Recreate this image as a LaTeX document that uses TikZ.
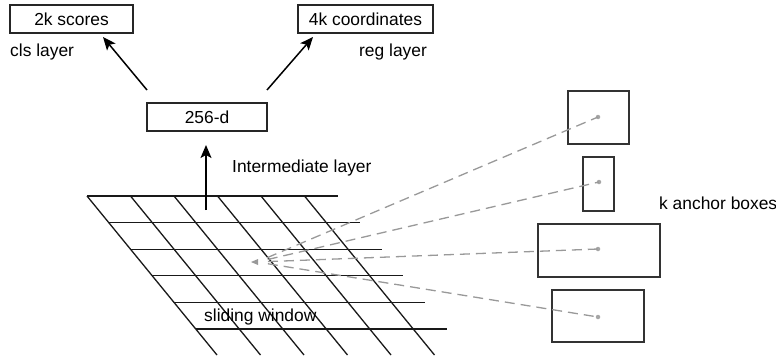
\documentclass[tikz,border=0pt]{standalone}
\usepackage{fontspec}
\setmainfont{Liberation Sans}
\usetikzlibrary{arrows.meta,calc}
\begin{document}
\begin{tikzpicture}[x=1pt,y=-1pt,
  lbl/.style={font=\fontsize{17.4}{20}\selectfont, inner sep=0pt},
  boxnode/.style={draw=black!85, line width=1.3pt, inner sep=0pt, font=\fontsize{17.4}{20}\selectfont},
  anchorbox/.style={draw=black!80, line width=1.3pt, inner sep=0pt},
  gridline/.style={draw=black!90, line width=1.3pt},
  bigarrow/.style={draw=black, line width=1.5pt, -{Stealth[length=13pt,width=11pt,inset=3pt]}},
  dashline/.style={draw=black!40, line width=1.3pt, dash pattern=on 10pt off 6pt},
  dotnode/.style={circle, fill=black!35, inner sep=0pt, minimum size=4.5pt}]
\useasboundingbox (0,0) rectangle (776,359);

% top boxes
\node[boxnode, minimum width=123pt, minimum height=28pt] (scores) at (71.5,19) {2k scores};
\node[boxnode, minimum width=135pt, minimum height=28pt] (coords) at (365.5,19) {4k coordinates};
\node[lbl, anchor=west] (cls) at (10,52) {cls layer};
\node[lbl, anchor=west] (reg) at (359,52) {reg layer};
\node[boxnode, minimum width=120pt, minimum height=28pt] (mid) at (207,117) {256-d};
\node[lbl, anchor=west] (inter) at (232,168) {Intermediate layer};

% arrows
\coordinate (clsTail) at (147,90);
\coordinate (clsHead) at (103,37);
\coordinate (regTail) at (267,90);
\coordinate (regHead) at (313,37);
\coordinate (upTail) at (206,210);
\coordinate (upHead) at (206,145);
\draw[bigarrow] (clsTail) -- (clsHead);
\draw[bigarrow] (regTail) -- (regHead);

% grid
\foreach \i in {0,...,5} {
  \draw[gridline] ({87+43.5*\i},196) -- ({217+43.5*\i},355);
}
\foreach \j in {0,...,5} {
  \draw[gridline] ({87+0.8176*26.6*\j},{196+26.6*\j}) -- ({338+0.8176*26.6*\j},{196+26.6*\j});
}
\draw[bigarrow] (upTail) -- (upHead);
\node[lbl, anchor=west] (slide) at (204,317) {sliding window};

% anchor boxes
\node[anchorbox, minimum width=61pt, minimum height=53pt] (a1) at (598.5,117.5) {};
\node[anchorbox, minimum width=31pt, minimum height=54pt] (a2) at (598.5,184) {};
\node[anchorbox, minimum width=122pt, minimum height=53pt] (a3) at (599,250.5) {};
\node[anchorbox, minimum width=92pt, minimum height=52pt] (a4) at (598,316) {};
\node[lbl, anchor=west] (kab) at (659,203) {k anchor boxes};

% dots and dashed lines
\node[dotnode] (d1) at (598,117) {};
\node[dotnode] (d2) at (599,182) {};
\node[dotnode] (d3) at (598,249) {};
\node[dotnode] (d4) at (598,317) {};
\coordinate (c) at (257,262);
\foreach \d in {d1,d2,d3,d4} {
  \draw[dashline] ($(c)!11pt!(\d)$) -- (\d.center);
}
\fill[black!40] (251,262) -- (258,259) -- (258,265) -- cycle;
\end{tikzpicture}
\end{document}
